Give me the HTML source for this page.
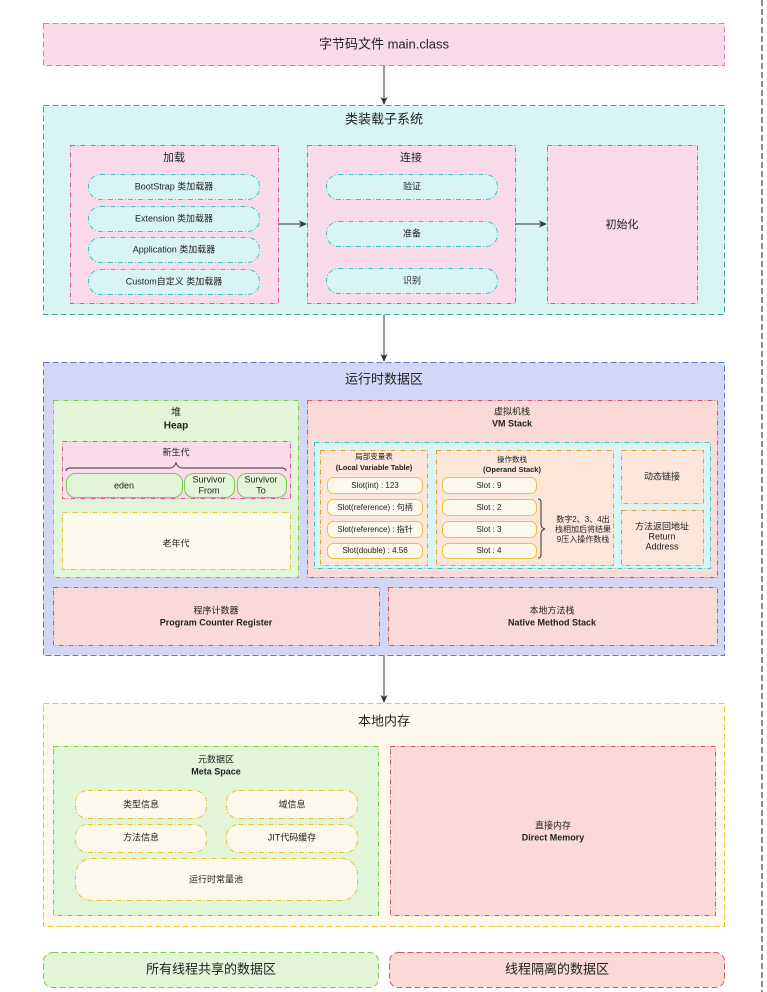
<!DOCTYPE html>
<html><head><meta charset="utf-8"><style>
html,body{margin:0;padding:0;background:#fff;width:767px;height:992px;overflow:hidden}
svg{display:block}
text{font-family:"Liberation Sans","Noto Sans CJK SC",sans-serif;fill:#222;text-anchor:middle;dominant-baseline:middle}
.t{font-size:13px}
.s{font-size:10px}
.x{font-size:9px}
.b{font-weight:bold}
.dd{stroke-dasharray:6 3}
.dc{stroke-dasharray:5 2 1 2}
</style></head><body>
<svg width="767" height="992" viewBox="0 0 767 992" xmlns="http://www.w3.org/2000/svg">
<defs><marker id="a" markerWidth="8" markerHeight="8" refX="7" refY="4" orient="auto" markerUnits="userSpaceOnUse"><path d="M0,0.5 L8,4 L0,7.5 L2,4z" fill="#333"/></marker></defs>
<line x1="762" y1="0" x2="762" y2="992" stroke="#666" stroke-width="1.5" class="dd"/>

<rect x="43.5" y="23.5" width="681" height="42" fill="#fadbe9" stroke="#e37aae" class="dd"/>
<text x="384" y="45" class="t">字节码文件 main.class</text>
<line x1="384" y1="66" x2="384" y2="104" stroke="#333" marker-end="url(#a)"/>

<rect x="43.5" y="105.5" width="681" height="209" fill="#d9f5f3" stroke="#4e9e99" class="dd"/>
<text x="384" y="120" class="t">类装载子系统</text>
<rect x="70.5" y="145.5" width="208" height="158" fill="#fadbe9" stroke="#e0589e" class="dc"/>
<text x="174" y="158" class="s" style="font-size:11px">加载</text>
<rect x="307.5" y="145.5" width="208" height="158" fill="#fadbe9" stroke="#e0589e" class="dc"/>
<text x="411" y="158" class="s" style="font-size:11px">连接</text>
<g fill="#d9f5f3" stroke="#3cc7c7" class="dc">
<rect x="88.5" y="174.5" width="171" height="25" rx="12"/>
<rect x="88.5" y="206.5" width="171" height="25" rx="12"/>
<rect x="88.5" y="237.5" width="171" height="25" rx="12"/>
<rect x="88.5" y="269.5" width="171" height="25" rx="12"/>
<rect x="326.5" y="174.5" width="171" height="25" rx="12"/>
<rect x="326.5" y="221.5" width="171" height="25" rx="12"/>
<rect x="326.5" y="268.5" width="171" height="25" rx="12"/>
</g>
<text x="174" y="187" class="x">BootStrap  类加载器</text>
<text x="174" y="219" class="x">Extension 类加载器</text>
<text x="174" y="250" class="x">Application 类加载器</text>
<text x="174" y="282" class="x">Custom自定义 类加载器</text>
<text x="412" y="187" class="x">验证</text>
<text x="412" y="234" class="x">准备</text>
<text x="412" y="281" class="x">识别</text>
<rect x="547.5" y="145.5" width="150" height="158" fill="#fadbe9" stroke="#e0589e" class="dc"/>
<text x="622" y="225" class="s" style="font-size:11px">初始化</text>
<line x1="278" y1="224" x2="306" y2="224" stroke="#333" marker-end="url(#a)"/>
<line x1="515" y1="224" x2="546" y2="224" stroke="#333" marker-end="url(#a)"/>
<line x1="384" y1="315" x2="384" y2="361" stroke="#333" marker-end="url(#a)"/>

<rect x="43.5" y="362.5" width="681" height="293" fill="#d3d6f7" stroke="#5b7ae8" class="dd"/>
<text x="384" y="380" class="t">运行时数据区</text>
<rect x="53.5" y="400.5" width="245" height="177" fill="#e3f5d9" stroke="#7dcc45" class="dc"/>
<text x="176" y="413" class="s">堆</text>
<text x="176" y="426" class="s b">Heap</text>
<rect x="62.5" y="441.5" width="228" height="57" fill="#fadbe9" stroke="#e0589e" class="dc"/>
<text x="176" y="453" class="x">新生代</text>
<path d="M66,471 q0,-3 4,-3 h100 q4,0 6,-5 q2,5 6,5 h100 q4,0 4,3" fill="none" stroke="#333"/>
<g fill="#e3f5d9" stroke="#7dcc45">
<rect x="66.5" y="473.5" width="116" height="24" rx="9"/>
<rect x="184.5" y="473.5" width="50" height="24" rx="9"/>
<rect x="237.5" y="473.5" width="49" height="24" rx="9"/>
</g>
<text x="124" y="486" class="x">eden</text>
<text x="209" y="480" class="x">Survivor</text><text x="209" y="491" class="x">From</text>
<text x="261" y="480" class="x">Survivor</text><text x="261" y="491" class="x">To</text>
<rect x="62.5" y="512.5" width="228" height="57" fill="#fcf8eb" stroke="#e6c43a" class="dc"/>
<text x="176" y="544" class="x">老年代</text>

<rect x="307.5" y="400.5" width="410" height="177" fill="#fadad6" stroke="#e0545e" class="dc"/>
<text x="512" y="412" class="x">虚拟机栈</text>
<text x="512" y="424" class="x b">VM Stack</text>
<rect x="314.5" y="442.5" width="396" height="126" fill="#d9f5f3" stroke="#3cc7c7" class="dc"/>
<rect x="320.5" y="450.5" width="107" height="115" fill="#fbe6d9" stroke="#ef9a3a" class="dc"/>
<text x="374" y="457" class="x" style="font-size:7.5px">局部变量表</text>
<text x="374" y="468" class="x b" style="font-size:7.5px">(Local Variable Table)</text>
<rect x="436.5" y="450.5" width="177" height="115" fill="#fbe6d9" stroke="#ef9a3a" class="dc"/>
<text x="512" y="460" class="x" style="font-size:7.5px">操作数栈</text>
<text x="512" y="470" class="x b" style="font-size:7.5px">(Operand Stack)</text>
<g fill="#fcf8eb" stroke="#e6c43a">
<rect x="327.5" y="477.5" width="95" height="16" rx="6"/>
<rect x="327.5" y="499.5" width="95" height="16" rx="6"/>
<rect x="327.5" y="521.5" width="95" height="16" rx="6"/>
<rect x="327.5" y="543.5" width="95" height="15" rx="6"/>
<rect x="442.5" y="477.5" width="94" height="16" rx="6"/>
<rect x="442.5" y="499.5" width="94" height="16" rx="6"/>
<rect x="442.5" y="521.5" width="94" height="16" rx="6"/>
<rect x="442.5" y="543.5" width="94" height="15" rx="6"/>
</g>
<text x="375" y="486" class="x" style="font-size:8px">Slot(int) : 123</text>
<text x="375" y="508" class="x" style="font-size:8px">Slot(reference) : 句柄</text>
<text x="375" y="530" class="x" style="font-size:8px">Slot(reference) : 指针</text>
<text x="375" y="551" class="x" style="font-size:8px">Slot(double) : 4.56</text>
<text x="489" y="486" class="x" style="font-size:8px">Slot : 9</text>
<text x="489" y="508" class="x" style="font-size:8px">Slot : 2</text>
<text x="489" y="530" class="x" style="font-size:8px">Slot : 3</text>
<text x="489" y="551" class="x" style="font-size:8px">Slot : 4</text>
<path d="M538,499 q3,0 3,3 v22 q0,4 4,5 q-4,1 -4,5 v21 q0,3 -3,3" fill="none" stroke="#333"/>
<text x="583" y="520" class="x" style="font-size:8px">数字2、3、4出</text>
<text x="583" y="530" class="x" style="font-size:8px">栈相加后将结果</text>
<text x="583" y="540" class="x" style="font-size:8px">9压入操作数栈</text>
<rect x="621.5" y="450.5" width="82" height="53" fill="#fbe6d9" stroke="#ef9a3a" class="dc"/>
<text x="662" y="477" class="x">动态链接</text>
<rect x="621.5" y="510.5" width="82" height="55" fill="#fbe6d9" stroke="#ef9a3a" class="dc"/>
<text x="662" y="527" class="x">方法返回地址</text>
<text x="662" y="537" class="x">Return</text>
<text x="662" y="547" class="x">Address</text>

<rect x="53.5" y="587.5" width="326" height="58" fill="#fadad6" stroke="#e0545e" class="dc"/>
<text x="216" y="611" class="x">程序计数器</text>
<text x="216" y="623" class="x b">Program Counter Register</text>
<rect x="388.5" y="587.5" width="329" height="58" fill="#fadad6" stroke="#e0545e" class="dc"/>
<text x="552" y="611" class="x">本地方法栈</text>
<text x="552" y="623" class="x b">Native Method Stack</text>
<line x1="384" y1="656" x2="384" y2="702" stroke="#333" marker-end="url(#a)"/>

<rect x="43.5" y="703.5" width="681" height="223" fill="#fcf8eb" stroke="#e6c43a" class="dd"/>
<text x="384" y="722" class="t">本地内存</text>
<rect x="53.5" y="746.5" width="325" height="169" fill="#e3f5d9" stroke="#7dcc45" class="dc"/>
<text x="216" y="760" class="x">元数据区</text>
<text x="216" y="772" class="x b">Meta Space</text>
<g fill="#fcf8eb" stroke="#e6c43a" class="dc">
<rect x="75.5" y="790.5" width="131" height="28" rx="12"/>
<rect x="226.5" y="790.5" width="131" height="28" rx="12"/>
<rect x="75.5" y="824.5" width="131" height="28" rx="12"/>
<rect x="226.5" y="824.5" width="131" height="28" rx="12"/>
<rect x="75.5" y="858.5" width="282" height="42" rx="16"/>
</g>
<text x="141" y="805" class="x">类型信息</text>
<text x="292" y="805" class="x">域信息</text>
<text x="141" y="838" class="x">方法信息</text>
<text x="292" y="838" class="x">JIT代码缓存</text>
<text x="216" y="880" class="x">运行时常量池</text>
<rect x="390.5" y="746.5" width="325" height="169" fill="#fadad6" stroke="#e0545e" class="dc"/>
<text x="553" y="826" class="x">直接内存</text>
<text x="553" y="838" class="x b">Direct Memory</text>

<rect x="43.5" y="952.5" width="335" height="35" rx="9" fill="#e3f5d9" stroke="#7dcc45" class="dd"/>
<text x="211" y="970" class="t">所有线程共享的数据区</text>
<rect x="389.5" y="952.5" width="335" height="35" rx="9" fill="#fadad6" stroke="#e0545e" class="dd"/>
<text x="557" y="970" class="t">线程隔离的数据区</text>
</svg>
</body></html>
